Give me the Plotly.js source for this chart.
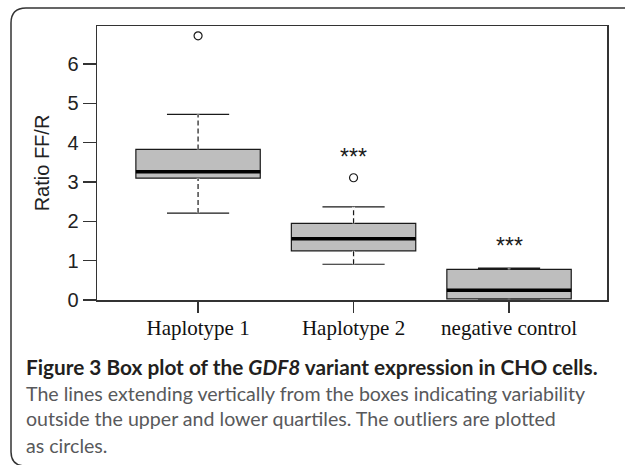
<!DOCTYPE html>
<html>
<head>
<meta charset="utf-8">
<script src="https://cdn.plot.ly/plotly-3.0.1.min.js"></script>
<style>
  html, body { margin: 0; padding: 0; background: #ffffff; }
  #chart { width: 625px; height: 465px; }
</style>
</head>
<body>
<div id="chart"></div>
<script>
// ---- data ----
const categories = ['Haplotype 1', 'Haplotype 2', 'negative control'];
const lowerWhisker = [2.21, 0.91, 0.02];
const q1 = [3.10, 1.25, 0.03];
const median = [3.26, 1.56, 0.25];
const q3 = [3.83, 1.95, 0.78];
const upperWhisker = [4.72, 2.37, 0.81];
const outlierGroup = ['Haplotype 1', 'Haplotype 2'];
const outlierValue = [6.72, 3.11];
const sigGroup = ['Haplotype 2', 'negative control'];
const sigLabel = ['***', '***'];
const sigY = [3.77, 1.51];
const yTicks = [0, 1, 2, 3, 4, 5, 6];
const yTitle = 'Ratio FF/R';
const captionLines = [
  '<b>Figure 3 Box plot of the <i>GDF8</i> variant expression in CHO cells.</b>',
  'The lines extending vertically from the boxes indicating variability',
  'outside the upper and lower quartiles. The outliers are plotted',
  'as circles.'
];

// ---- layout constants ----
const W = 625, H = 465;
const M = { l: 97, r: 18, t: 26, b: 165 };
const PW = W - M.l - M.r, PH = H - M.t - M.b;
const px = x => (x - M.l) / PW;          // pixel -> paper x
const py = y => (H - M.b - y) / PH;      // pixel -> paper y
const BOX_W = 0.8;

const pos = categories.map((c, i) => i);
const idx = name => categories.indexOf(name);

// whisker segments
const wx = [], wy = [];
pos.forEach((p, i) => {
  wx.push(p, p, null, p, p, null);
  wy.push(q3[i], upperWhisker[i], null, lowerWhisker[i], q1[i], null);
});
// median segments
const mx = [], my = [];
pos.forEach((p, i) => {
  mx.push(p - BOX_W / 2, p + BOX_W / 2, null);
  my.push(median[i], median[i], null);
});

const traces = [
  {
    type: 'box',
    x: pos,
    q1: q1, median: median, q3: q3,
    lowerfence: lowerWhisker, upperfence: upperWhisker,
    width: BOX_W,
    whiskerwidth: 0.5,
    fillcolor: '#bebebe',
    line: { color: '#1a1a1a', width: 1.2 },
    boxpoints: false,
    hoverinfo: 'skip',
    showlegend: false
  },
  {
    type: 'scatter', mode: 'lines', x: wx, y: wy,
    line: { color: '#ffffff', width: 2.5 },
    hoverinfo: 'skip', showlegend: false
  },
  {
    type: 'scatter', mode: 'lines', x: wx, y: wy,
    line: { color: '#1a1a1a', width: 1.2, dash: '5px,3px' },
    hoverinfo: 'skip', showlegend: false
  },
  {
    type: 'scatter', mode: 'lines', x: mx, y: my,
    line: { color: '#000000', width: 3.5 },
    hoverinfo: 'skip', showlegend: false
  },
  {
    type: 'scatter', mode: 'markers',
    x: outlierGroup.map(idx), y: outlierValue,
    marker: { symbol: 'circle-open', size: 8, color: '#1a1a1a', line: { width: 1.2, color: '#1a1a1a' } },
    hoverinfo: 'skip', showlegend: false
  }
];

const annotations = sigGroup.map((g, i) => ({
  x: idx(g), y: sigY[i], xref: 'x', yref: 'y',
  text: sigLabel[i], showarrow: false,
  xanchor: 'center', yanchor: 'middle', yshift: -5,
  font: { family: 'Liberation Sans, Arial, sans-serif', size: 23, color: '#1a1a1a' }
}));

const capBaselines = [374, 400, 425, 452];
captionLines.forEach((t, i) => {
  annotations.push({
    x: px(24), y: py(capBaselines[i] + 7), xref: 'paper', yref: 'paper',
    text: t, showarrow: false, xanchor: 'left', yanchor: 'bottom', align: 'left',
    font: {
      family: 'Lato, "Open Sans", sans-serif',
      size: i === 0 ? 20.8 : 19.6,
      color: i === 0 ? '#231f20' : '#58595b'
    }
  });
});

// outer rounded frame
const frame = {
  type: 'path', xref: 'paper', yref: 'paper',
  path: `M ${px(26)},${py(466)} Q ${px(11)},${py(466)} ${px(11)},${py(452)} L ${px(11)},${py(23)} Q ${px(11)},${py(8)} ${px(26)},${py(8)} L ${px(640)},${py(8)}`,
  line: { color: '#333333', width: 1.5 }
};

const layout = {
  width: W, height: H,
  margin: M,
  paper_bgcolor: '#ffffff', plot_bgcolor: '#ffffff',
  showlegend: false,
  xaxis: {
    range: [-0.65, 2.63],
    tickmode: 'array', tickvals: pos, ticktext: categories,
    ticks: 'outside', ticklen: 11, tickwidth: 1.3, tickcolor: '#333333',
    ticklabelstandoff: -3,
    showline: true, mirror: true, linecolor: '#333333', linewidth: 1.5,
    showgrid: false, zeroline: false,
    tickfont: { family: 'Liberation Serif, "Times New Roman", serif', size: 21, color: '#111111' }
  },
  yaxis: {
    range: [0, 6.97],
    tickmode: 'array', tickvals: yTicks,
    ticks: 'outside', ticklen: 13, tickwidth: 1.3, tickcolor: '#333333',
    showline: true, mirror: true, linecolor: '#333333', linewidth: 1.5,
    showgrid: false, zeroline: false,
    tickfont: { family: 'Liberation Sans, Arial, sans-serif', size: 20, color: '#222222' },
    title: { text: yTitle, standoff: 12, font: { family: 'Liberation Sans, Arial, sans-serif', size: 20, color: '#222222' } }
  },
  annotations: annotations,
  shapes: [frame]
};

Plotly.newPlot('chart', traces, layout, { staticPlot: true, displayModeBar: false });
</script>
</body>
</html>
